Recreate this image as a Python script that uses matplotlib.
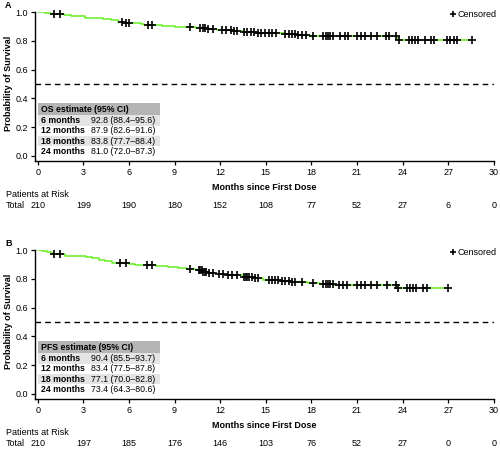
"""Kaplan-Meier style OS / PFS panels with estimate tables and patients at risk."""

import numpy as np
import matplotlib
matplotlib.use("Agg")
import matplotlib.pyplot as plt
from matplotlib.lines import Line2D
from matplotlib.patches import Rectangle

plt.rcParams["font.family"] = ["Liberation Sans", "DejaVu Sans"]

# ---- data -----------------------------------------------------------------
x_ticks = [0, 3, 6, 9, 12, 15, 18, 21, 24, 27, 30]

os_times = [0, 0.5, 0.9, 1.7, 2.2, 2.6, 3.1, 3.6, 4.3, 4.8, 5.3, 5.6, 6.8, 7.0,
            8.2, 9.0, 9.6, 10.4, 11.2, 11.8, 12.8, 13.5, 14.3, 15.4, 16.2,
            17.0, 17.9, 23.65, 28.55]
os_surv = [1.0, 0.995, 0.990, 0.981, 0.976, 0.971, 0.962, 0.957, 0.952, 0.943,
           0.933, 0.928, 0.918, 0.913, 0.904, 0.899, 0.894, 0.889, 0.884,
           0.879, 0.869, 0.864, 0.859, 0.854, 0.848, 0.843, 0.838, 0.810,
           0.810]
os_censored = [1.07, 1.47, 5.52, 5.81, 6.03, 7.23, 7.5, 10.02, 10.7, 10.9,
               11.0, 11.2, 11.5, 12.1, 12.4, 12.7, 12.9, 13.1, 13.6, 13.8,
               14.0, 14.2, 14.5, 14.7, 14.95, 15.2, 15.4, 15.7, 16.3, 16.5,
               16.7, 16.9, 17.1, 17.4, 17.65, 18.1, 18.8, 18.95, 19.1, 19.25,
               19.4, 19.9, 20.2, 20.4, 21.0, 21.3, 21.5, 21.9, 22.3, 22.9,
               23.1, 23.55, 23.8, 24.4, 24.6, 24.8, 25.0, 25.5, 25.9, 26.1,
               26.9, 27.1, 27.4, 27.6, 28.55]
os_at_risk = [210, 199, 190, 180, 152, 108, 77, 52, 27, 6, 0]
os_rows = ["6 months", "12 months", "18 months", "24 months"]
os_values = ["92.8 (88.4\u201395.6)", "87.9 (82.6\u201391.6)",
             "83.8 (77.7\u201388.4)", "81.0 (72.0\u201387.3)"]

pfs_times = [0, 0.3, 0.6, 0.9, 1.0, 1.8, 2.5, 3.2, 3.6, 4.0, 4.4, 4.9, 5.2,
             6.0, 6.4, 7.0, 7.8, 8.6, 9.2, 9.8, 10.4, 10.9, 11.3, 11.7, 12.3,
             13.6, 14.2, 14.8, 16.0, 16.6, 17.3, 17.8, 18.6, 19.5, 23.65, 27.0]
pfs_surv = [1.0, 0.995, 0.990, 0.981, 0.971, 0.962, 0.957, 0.952, 0.947,
            0.933, 0.923, 0.914, 0.909, 0.904, 0.899, 0.894, 0.888, 0.882,
            0.877, 0.872, 0.862, 0.852, 0.843, 0.834, 0.828, 0.817, 0.806,
            0.795, 0.789, 0.782, 0.776, 0.771, 0.765, 0.760, 0.734, 0.734]
pfs_censored = [1.07, 1.47, 5.4, 5.8, 7.2, 7.5, 10.0, 10.6, 10.7, 10.8, 10.9,
                11.0, 11.1, 11.3, 11.5, 11.9, 12.2, 12.5, 12.8, 13.1, 13.6,
                13.7, 13.8, 13.9, 14.08, 14.3, 14.5, 15.2, 15.4, 15.6, 15.8,
                16.1, 16.3, 16.5, 16.7, 16.9, 17.4, 18.1, 18.8, 18.95, 19.1,
                19.25, 19.4, 19.8, 20.1, 20.35, 21.0, 21.3, 21.5, 21.9, 22.3,
                22.96, 23.57, 23.7, 24.3, 24.5, 24.7, 24.9, 25.35, 25.6, 27.0]
pfs_at_risk = [210, 197, 185, 176, 146, 103, 76, 52, 27, 0, 0]
pfs_rows = ["6 months", "12 months", "18 months", "24 months"]
pfs_values = ["90.4 (85.5\u201393.7)", "83.4 (77.5\u201387.8)",
              "77.1 (70.0\u201382.8)", "73.4 (64.3\u201380.6)"]

GREEN = "#66ee22"
FS = 6.5


def surv_at(times, surv, t):
    idx = np.searchsorted(np.asarray(times), np.asarray(t), side="right") - 1
    return np.asarray(surv)[idx]


def draw_panel(ax, letter, times, surv, censored, header, rows, values, at_risk):
    ax.set_xlim(-0.18, 30)
    ax.set_ylim(-0.037, 1.0)

    ax.axhline(0.5, color="black", lw=1.0, ls=(0, (4, 3)))
    ax.step(times, surv, where="post", color=GREEN, lw=1.1, zorder=3)
    ax.plot(censored, surv_at(times, surv, censored), "+", color="black",
            ms=5.5, mew=1.2, zorder=4, clip_on=False)

    # estimate table
    x0, x1 = 0.0, 8.05
    top, head_h, row_h = 0.365, 0.083, 0.072
    ax.add_patch(Rectangle((x0, top - head_h), x1 - x0, head_h,
                           facecolor="#b4b4b4", edgecolor="none", zorder=2))
    ax.text(0.22, top - head_h / 2, header, fontsize=6.3, fontweight="bold",
            va="center", ha="left", zorder=5)
    for i, (lab, val) in enumerate(zip(rows, values)):
        y_top = top - head_h - i * row_h
        if i % 2 == 0:
            ax.add_patch(Rectangle((x0, y_top - row_h), x1 - x0, row_h,
                                   facecolor="#e4e4e4", edgecolor="none",
                                   zorder=2))
        ax.text(0.22, y_top - row_h / 2, lab, fontsize=6.3, fontweight="bold",
                va="center", ha="left", zorder=5)
        ax.text(3.49, y_top - row_h / 2, val, fontsize=6.3, va="center",
                ha="left", zorder=5)

    for side in ("top", "right"):
        ax.spines[side].set_visible(False)
    for side in ("left", "bottom"):
        ax.spines[side].set_linewidth(1.0)
    ax.set_xticks(x_ticks)
    ax.set_yticks([0.0, 0.2, 0.4, 0.6, 0.8, 1.0])
    ax.set_yticklabels(["0.0", "0.2", "0.4", "0.6", "0.8", "1.0"])
    ax.tick_params(direction="out", length=3, width=0.9, labelsize=FS, pad=2)

    ax.set_ylabel("Probability of Survival", fontsize=FS, fontweight="bold")
    ax.yaxis.set_label_coords(-0.047, 0.52)
    ax.text(0.5, -0.175, "Months since First Dose", transform=ax.transAxes,
            fontsize=FS, fontweight="bold", ha="center", va="center")

    ax.text(-0.063, -0.225, "Patients at Risk", transform=ax.transAxes,
            fontsize=FS, ha="left", va="center")
    ax.text(-0.063, -0.298, "Total", transform=ax.transAxes,
            fontsize=FS, ha="left", va="center")
    trans = ax.get_xaxis_transform()
    for xt, n in zip(x_ticks, at_risk):
        ax.text(xt, -0.298, str(n), transform=trans, fontsize=FS,
                ha="center", va="center")

    ax.text(-0.065, 1.045, letter, transform=ax.transAxes, fontsize=FS,
            fontweight="bold", ha="left", va="center")

    handle = Line2D([], [], marker="+", ls="none", color="black", ms=5,
                    mew=1.2, label="Censored")
    ax.legend(handles=[handle], loc="upper right", bbox_to_anchor=(1.015, 1.04),
              frameon=False, fontsize=FS, handlelength=0.6,
              handletextpad=0.2, borderaxespad=0)


fig = plt.figure(figsize=(5, 4.5), dpi=100)
ax_a = fig.add_axes([0.07, 0.6422, 0.9174, 0.3305])
ax_b = fig.add_axes([0.07, 0.1133, 0.9174, 0.3305])

draw_panel(ax_a, "A", os_times, os_surv, os_censored, "OS estimate (95% CI)",
           os_rows, os_values, os_at_risk)
draw_panel(ax_b, "B", pfs_times, pfs_surv, pfs_censored,
           "PFS estimate (95% CI)", pfs_rows, pfs_values, pfs_at_risk)

fig.savefig("out.png", dpi=100)
